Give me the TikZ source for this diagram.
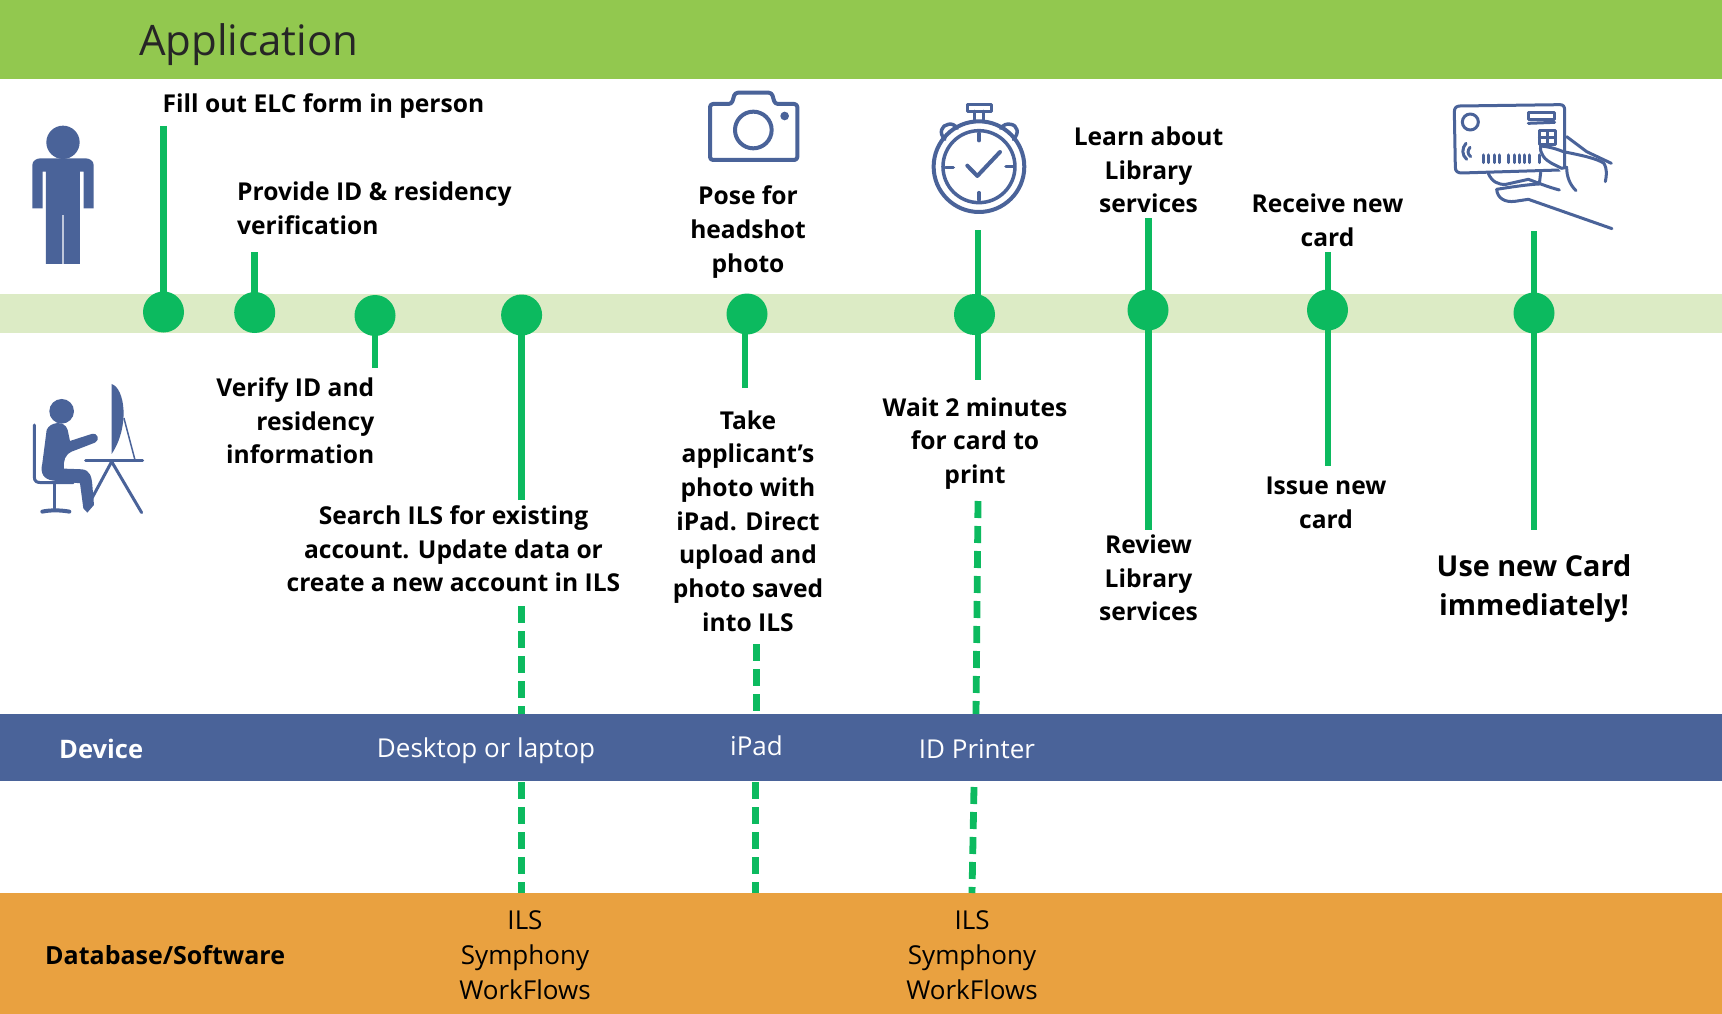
\documentclass[tikz,border=0pt]{standalone}
\usepackage{fontspec}
\setmainfont{Open Sans}
\definecolor{topgreen}{HTML}{92C84F}
\definecolor{palegreen}{HTML}{DCEBC5}
\definecolor{devblue}{HTML}{4A6399}
\definecolor{dborange}{HTML}{E9A140}
\definecolor{stemgreen}{HTML}{0CBA5F}
\tikzset{
  band/.style={fill=#1,draw=none},
  dot/.style={circle,fill=stemgreen,draw=none,minimum size=41pt,inner sep=0pt},
  stem/.style={draw=stemgreen,line width=6.8pt},
  dashstem/.style={draw=stemgreen,line width=6.8pt,dash pattern=on 17pt off 8pt},
  lab/.style={font=\fontsize{24.6}{33.7}\selectfont\bfseries,align=center,inner sep=0pt,text=black},
  big/.style={font=\fontsize{28.8}{39.5}\selectfont\bfseries,align=center,inner sep=0pt,text=black},
  dev/.style={font=\fontsize{26}{30}\selectfont,text=white,inner sep=0pt},
  dbt/.style={font=\fontsize{26}{35}\selectfont,align=center,inner sep=0pt,text=black},
  icon/.style={draw=devblue,line width=4pt,line cap=round,line join=round},
  thin/.style={draw=devblue,line width=3pt,line cap=round,line join=round},
  solidicon/.style={fill=devblue,draw=none}
}
\begin{document}
\begin{tikzpicture}[x=1pt,y=-1pt]
\useasboundingbox (0,0) rectangle (1722,1014);
\fill[white] (0,0) rectangle (1722,1014);
% bands
\fill[band=topgreen] (0,0) rectangle (1722,79);
\fill[band=palegreen] (0,294) rectangle (1722,333);
\fill[band=devblue] (0,714) rectangle (1722,781);
\fill[band=dborange] (0,893) rectangle (1722,1014);
% free ends
\coordinate (e1) at (163.5,126);
\coordinate (e2) at (254.7,252);
\coordinate (e3) at (375,368);
\coordinate (e4) at (521.6,500);
\coordinate (e5) at (745,388);
\coordinate (e6u) at (978,230);
\coordinate (e6d) at (978,380);
\coordinate (e7u) at (1148.5,218);
\coordinate (e7d) at (1148.5,530);
\coordinate (e8u) at (1328,252);
\coordinate (e8d) at (1328,466);
\coordinate (e9u) at (1534,231);
\coordinate (e9d) at (1534,530);
\coordinate (a1) at (521.5,606);
\coordinate (a2) at (521.5,714);
\coordinate (a3) at (521.5,782);
\coordinate (a4) at (521.5,893);
\coordinate (b1) at (756.5,644);
\coordinate (b2) at (756.5,714);
\coordinate (b3) at (755.5,782);
\coordinate (b4) at (755.5,893);
\coordinate (c1) at (978,501);
\coordinate (c2) at (976,714);
\coordinate (c3) at (974,787);
\coordinate (c4) at (972,893);
% dots
\node[dot] (d1) at (163.5,312) {};
\node[dot] (d2) at (254.7,312.5) {};
\node[dot] (d3) at (375,315.5) {};
\node[dot] (d4) at (521.6,315) {};
\node[dot] (d5) at (747,314) {};
\node[dot] (d6) at (974.5,314.5) {};
\node[dot] (d7) at (1148,310) {};
\node[dot] (d8) at (1327.5,310) {};
\node[dot] (d9) at (1534,313) {};
% connectors
\draw[stem,shorten >=-5pt] (e1) -- (d1);
\draw[stem,shorten >=-5pt] (e2) -- (d2);
\draw[stem,shorten >=-5pt] (e3) -- (d3);
\draw[stem,shorten >=-5pt] (e4) -- (d4);
\draw[stem] (e5) -- (745,320);
\draw[stem] (e6u) -- (e6d);
\draw[stem] (e7u) -- (e7d);
\draw[stem] (e8u) -- (e8d);
\draw[stem] (e9u) -- (e9d);
\draw[dashstem] (a1) -- (a2);
\draw[dashstem] (a3) -- (a4);
\draw[dashstem] (b1) -- (b2);
\draw[dashstem] (b3) -- (b4);
\draw[dashstem] (c1) -- (c2);
\draw[dashstem] (c3) -- (c4);
% titles
\node[anchor=west,inner sep=0pt,font=\fontsize{42}{48}\selectfont,text=black!85] (title) at (139,45) {Application};
% labels
\node[lab,anchor=west] (t1) at (162.5,106) {Fill out ELC form in person};
\node[lab,anchor=west,align=left] (t2) at (237,208) {Provide ID \& residency\\verification};
\node[lab,anchor=east,align=right] (t3) at (374.5,421) {Verify ID and\\residency\\information};
\node[lab] (t4) at (453.5,549) {Search ILS for existing\\account. Update data or\\create a new account in ILS};
\node[lab] (t5) at (748,232) {Pose for\\headshot\\photo};
\node[lab] (t6) at (748,521) {Take\\applicant’s\\photo with\\iPad. Direct\\upload and\\photo saved\\into ILS};
\node[lab] (t7) at (975,443.5) {Wait 2 minutes\\for card to\\print};
\node[lab] (t8) at (1148.5,170) {Learn about\\Library\\services};
\node[lab] (t9) at (1327.5,220) {Receive new\\card};
\node[lab] (t10) at (1148.5,578) {Review\\Library\\services};
\node[lab] (t11) at (1326,503) {Issue new\\card};
\node[big] (t12) at (1534,588.5) {Use new Card\\immediately!};
% device
\node[dev,anchor=west,font=\fontsize{25.5}{30}\selectfont\bfseries] (dv) at (59,749) {Device};
\node[dev] (dv1) at (486,751) {Desktop or laptop};
\node[dev] (dv2) at (756.5,746) {iPad};
\node[dev] (dv3) at (977,749) {ID Printer};
% database
\node[dbt,anchor=west,font=\fontsize{25}{30}\selectfont\bfseries] (db) at (45,955) {Database/Software};
\node[dbt] (db1) at (525,955) {ILS\\Symphony\\WorkFlows};
\node[dbt] (db2) at (972,955) {ILS\\Symphony\\WorkFlows};
% person icon
\begin{scope}[shift={(0,80)},x=0.3333pt,y=-0.3333pt]
\fill[solidicon] (189,187) circle[radius=50];
\fill[solidicon] (97,385) -- (97,255) to[out=90,in=180] (122,235) -- (256,235) to[out=0,in=90] (281,255) -- (281,385) -- (251,385) -- (251,275) -- (240,275) -- (240,552) -- (191,552) -- (191,405) -- (187,405) -- (187,552) -- (138,552) -- (138,275) -- (128,275) -- (128,385) -- cycle;
\end{scope}
% worker icon
\begin{scope}[shift={(0,80)},x=0.3333pt,y=-0.3333pt]
\fill[solidicon] (185,994) circle[radius=37];
\fill[solidicon] (140,1050) .. controls (150,1025) and (195,1020) .. (203,1050) -- (210,1083) -- (275,1062) .. controls (295,1058) and (300,1080) .. (285,1088) -- (215,1115) .. controls (195,1125) and (190,1140) .. (192,1166) -- (245,1168) .. controls (270,1170) and (275,1190) .. (277,1215) -- (282,1275) -- (262,1298) -- (250,1285) -- (240,1210) -- (160,1202) .. controls (130,1198) and (120,1180) .. (127,1150) -- cycle;
\draw[thin] (103,1035) -- (103,1190) .. controls (103,1205) and (110,1208) .. (125,1208) -- (220,1208);
\draw[thin] (165,1208) -- (165,1285);
\draw[thin,line width=4pt] (127,1295) .. controls (150,1290) and (180,1290) .. (208,1295);
\fill[solidicon] (335,912) .. controls (375,925) and (390,1040) .. (335,1122) -- cycle;
\draw[thin,line width=1.5pt] (372,1015) -- (405,1140);
\draw[thin] (257,1143) -- (428,1143);
\draw[thin] (335,1145) -- (425,1298);
\draw[thin] (335,1145) -- (272,1262);
\end{scope}
% camera
\begin{scope}[shift={(680,80)},x=0.3333pt,y=-0.3333pt]
\draw[icon,rounded corners=3pt] (90,72) -- (155,72) -- (165,38) -- (275,38) -- (285,72) -- (352,72) -- (352,240) -- (90,240) -- cycle;
\draw[icon] (220,150) circle[radius=55];
\fill[solidicon] (314,108) circle[radius=13];
\end{scope}
% stopwatch
\begin{scope}[shift={(680,80)},x=0.3333pt,y=-0.3333pt]
\draw[icon] (897,260) circle[radius=136];
\draw[icon,line width=3.5pt] (897,260) circle[radius=108];
\draw[icon,line width=3.5pt] (862,73) rectangle (934,94);
\draw[icon,line width=3.5pt] (884,94) -- (884,122);
\draw[icon,line width=3.5pt] (910,94) -- (910,122);
\draw[icon,line width=3.5pt] (795,178) .. controls (775,160) and (785,135) .. (805,133) .. controls (815,130) and (825,135) .. (832,145);
\draw[icon,line width=3.5pt] (1000,178) .. controls (1020,160) and (1012,135) .. (992,133) .. controls (980,130) and (970,135) .. (962,145);
\draw[icon,line width=3.5pt] (897,160) -- (897,182);
\draw[icon,line width=3.5pt] (897,338) -- (897,360);
\draw[icon,line width=3.5pt] (797,262) -- (820,262);
\draw[icon,line width=3.5pt] (978,260) -- (1003,260);
\draw[icon] (862,257) -- (892,288) -- (960,216);
\end{scope}
% card and hand
\begin{scope}[shift={(1420,90)},x=0.3333pt,y=-0.3333pt]
\draw[thin] (120,48) -- (420,44) .. controls (430,44) and (434,50) .. (434,60) -- (434,225) .. controls (434,238) and (430,240) .. (420,240) -- (125,249) .. controls (112,249) and (106,243) .. (106,232) -- (103,65) .. controls (103,53) and (110,48) .. (120,48);
\draw[thin] (151,96) circle[radius=24];
\draw[thin] (325,68) rectangle (404,88);
\draw[thin] (325,100) -- (404,97);
\draw[thin] (358,122) rectangle (405,165);
\draw[thin] (358,143) -- (405,143);
\draw[thin] (381,122) -- (381,165);
\draw[thin] (138,160) .. controls (125,175) and (125,195) .. (140,208);
\draw[thin] (150,172) .. controls (142,182) and (142,192) .. (152,200);
\foreach \x in {190,205,222,237,266,282,297,313,328,358}{
  \draw[thin] (\x,195) -- (\x,218);
}
\draw[thin,fill=white] (362,168) .. controls (358,190) and (375,210) .. (395,220) -- (425,235) -- (440,232) .. controls (440,260) and (450,285) .. (468,302);
\draw[thin] (362,168) .. controls (385,170) and (405,175) .. (430,185) .. controls (480,195) and (530,205) .. (552,220) .. controls (562,240) and (560,255) .. (556,275);
\draw[thin] (440,140) -- (500,185) -- (574,220);
\draw[thin] (205,250) .. controls (215,275) and (235,285) .. (258,283) -- (325,268) .. controls (345,275) and (380,290) .. (418,300);
\draw[thin] (230,298) .. controls (280,290) and (330,283) .. (358,282) -- (362,248);
\draw[thin] (230,298) .. controls (232,325) and (255,338) .. (285,334) -- (325,328) -- (576,416);
\end{scope}
\end{tikzpicture}
\end{document}
